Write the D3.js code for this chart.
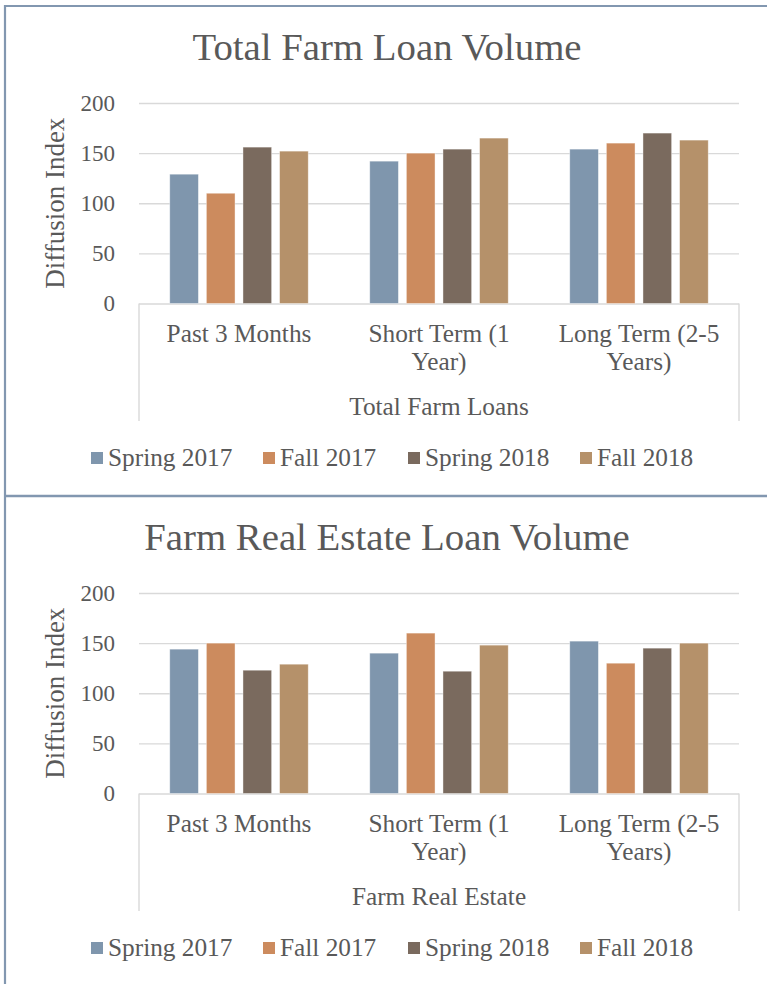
<!DOCTYPE html>
<html>
<head>
<meta charset="utf-8">
<script src="https://cdn.jsdelivr.net/npm/d3@7"></script>
<style>
  html, body { margin: 0; padding: 0; background: #fff; }
  svg { display: block; }
  text { font-family: "Liberation Serif", "DejaVu Serif", serif; fill: #595959; }
</style>
</head>
<body>
<svg id="chart" width="767" height="984"></svg>
<script>
// ---- data ----
const categories = ["Past 3 Months", "Short Term (1 Year)", "Long Term (2-5 Years)"];
const categoryLines = [["Past 3 Months"], ["Short Term (1", "Year)"], ["Long Term (2-5", "Years)"]];
const seriesNames = ["Spring 2017", "Fall 2017", "Spring 2018", "Fall 2018"];
const seriesColors = ["#7f96ad", "#cc8b5e", "#7a6a5e", "#b5916a"];
const yTicks = [0, 50, 100, 150, 200];

const totalSpring2017 = [129, 142, 154];
const totalFall2017   = [110, 150, 160];
const totalSpring2018 = [156, 154, 170];
const totalFall2018   = [152, 165, 163];

const realSpring2017 = [144, 140, 152];
const realFall2017   = [150, 160, 130];
const realSpring2018 = [123, 122, 145];
const realFall2018   = [129, 148, 150];

const charts = [
  { title: "Total Farm Loan Volume", group: "Total Farm Loans",
    series: [totalSpring2017, totalFall2017, totalSpring2018, totalFall2018], dy: 0 },
  { title: "Farm Real Estate Loan Volume", group: "Farm Real Estate",
    series: [realSpring2017, realFall2017, realSpring2018, realFall2018], dy: 490 }
];

const svg = d3.select("#chart");

// outer frame
const frameColor = "#8297b0";
svg.append("line").attr("x1", 5).attr("x2", 767).attr("y1", 6).attr("y2", 6)
  .attr("stroke", frameColor).attr("stroke-width", 2.2);
svg.append("line").attr("x1", 5).attr("x2", 5).attr("y1", 5).attr("y2", 984)
  .attr("stroke", frameColor).attr("stroke-width", 2.2);
svg.append("line").attr("x1", 5).attr("x2", 767).attr("y1", 496).attr("y2", 496)
  .attr("stroke", frameColor).attr("stroke-width", 2.5);

const plotLeft = 139, plotRight = 739;
const x0 = d3.scaleBand().domain(categories).range([plotLeft, plotRight]);
const x1 = d3.scaleBand().domain(seriesNames).range([0, x0.bandwidth()])
  .paddingInner(0.217).paddingOuter(0.84);

charts.forEach(c => {
  const g = svg.append("g").attr("transform", `translate(0,${c.dy})`);
  const y = d3.scaleLinear().domain([0, 200]).range([303.5, 103]);

  // title
  g.append("text").attr("x", 387).attr("y", 60).attr("text-anchor", "middle")
    .attr("font-size", 38.8).text(c.title);

  // gridlines + y labels
  const yAxis = d3.axisLeft(y).tickValues(yTicks).tickSizeInner(-(plotRight - plotLeft))
    .tickSizeOuter(0).tickPadding(24);
  const ya = g.append("g").attr("transform", `translate(${plotLeft},0)`).call(yAxis);
  ya.select(".domain").remove();
  ya.selectAll(".tick line").attr("stroke", "#d9d9d9").attr("stroke-width", 1.4);
  ya.selectAll(".tick text").attr("font-size", 23).attr("fill", "#595959")
    .attr("font-family", "Liberation Serif, serif");

  // y axis title
  g.append("text").attr("transform", `translate(64,${(y(0) + y(200)) / 2}) rotate(-90)`)
    .attr("text-anchor", "middle").attr("font-size", 27).text("Diffusion Index");

  // category axis box lines
  [plotLeft, plotRight].forEach(xx => {
    g.append("line").attr("x1", xx).attr("x2", xx).attr("y1", y(0)).attr("y2", 421)
      .attr("stroke", "#d9d9d9").attr("stroke-width", 1.4);
  });

  // bars
  c.series.forEach((vals, si) => {
    g.append("g").selectAll("rect").data(vals).join("rect")
      .attr("x", (d, i) => x0(categories[i]) + x1(seriesNames[si]))
      .attr("width", x1.bandwidth())
      .attr("y", d => y(d))
      .attr("height", d => y(0) - y(d))
      .attr("fill", seriesColors[si])
      .attr("stroke", "#ffffff").attr("stroke-opacity", 0.5).attr("stroke-width", 0.8);
  });

  // category labels
  categoryLines.forEach((lines, i) => {
    const t = g.append("text").attr("text-anchor", "middle").attr("font-size", 25.3);
    lines.forEach((ln, li) => {
      t.append("tspan").attr("x", x0(categories[i]) + x0.bandwidth() / 2)
        .attr("y", 342 + li * 27.5).text(ln);
    });
  });
  g.append("text").attr("x", (plotLeft + plotRight) / 2).attr("y", 415)
    .attr("text-anchor", "middle").attr("font-size", 25.3).text(c.group);

  // legend
  const legendX = [91, 263, 408, 580];
  seriesNames.forEach((s, si) => {
    g.append("rect").attr("x", legendX[si]).attr("y", 452).attr("width", 12).attr("height", 12)
      .attr("fill", seriesColors[si]);
    g.append("text").attr("x", legendX[si] + 17).attr("y", 466).attr("font-size", 25.3).text(s);
  });
});
</script>
</body>
</html>
